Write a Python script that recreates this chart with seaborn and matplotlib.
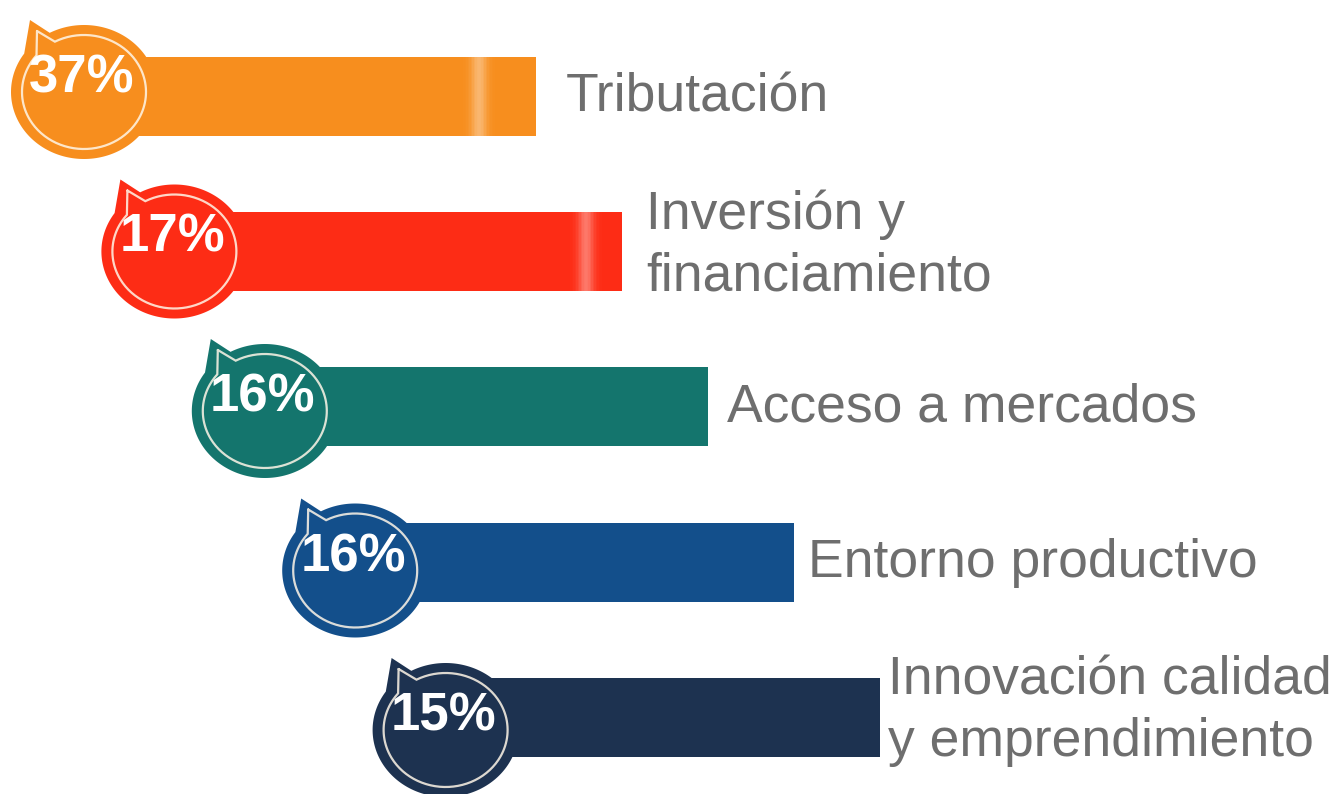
import numpy as np
import matplotlib
matplotlib.use("Agg")
import matplotlib.pyplot as plt
import seaborn as sns

# datos ----------------------------------------------------------------------------------------
categorias = ["Tributación", "Inversión y\nfinanciamiento", "Acceso a mercados",
              "Entorno productivo", "Innovación calidad\ny emprendimiento"]
porcentajes = [37, 17, 16, 16, 15]
colores = ["#F78E1E", "#FD2C15", "#14756D", "#134F8B", "#1D3250"]
brillo = [True, True, False, False, False]

sns.set_theme(style="white")
plt.rcParams["font.family"] = ["Liberation Sans", "DejaVu Sans"]

# disposicion escalonada (pixeles) ---------------------------------------------------------------
W, H = 1332, 794
barra_y0, barra_paso = 96, 155.4
circ_y0, circ_paso_y = 92, 159.5
circ_x0, circ_paso = 84, 90.4
fin_x0, fin_paso = 536, 86.0
txt_x0, txt_paso = 566, 80.5
rx, ry = 73, 67          # globo apenas ensanchado
rx_in, ry_in = 62, 57
alto_barra = 79

fig = plt.figure(figsize=(W / 100, H / 100), dpi=100)
ax = fig.add_axes([0, 0, 1, 1])
ax.set_xlim(0, W)
ax.set_ylim(H, 0)
ax.axis("off")


def elipse(cx, cy, a, b, ang):
    t = np.radians(ang)
    return cx + a * np.cos(t), cy - b * np.sin(t)


for i, (cat, pct, col) in enumerate(zip(categorias, porcentajes, colores)):
    yb = barra_y0 + barra_paso * i
    cy = circ_y0 + circ_paso_y * i
    cx = circ_x0 + circ_paso * i
    fin = fin_x0 + fin_paso * i

    # barra
    ax.barh(yb, fin - cx, left=cx, height=alto_barra, color=col, edgecolor="none", zorder=2)

    # brillo cerca del final de la barra
    if brillo[i]:
        xc = fin - 58 + 21 * i
        for dx in np.arange(-30, 31, 1.5):
            a = 0.36 * np.exp(-(dx / 8.0) ** 2)
            ax.barh(yb, 1.6, left=xc + dx, height=alto_barra, color="white", alpha=a,
                    edgecolor="none", zorder=2.5)

    # globo con cola
    ang = np.linspace(145, 118 + 360, 240)
    px, py = elipse(cx, cy, rx, ry, ang)
    tx, ty = cx - 54, cy - 72
    ax.fill(np.r_[tx, px, tx], np.r_[ty, py, ty], color=col, zorder=3, lw=0)

    # anillo interior claro
    ang2 = np.linspace(140, 118 + 360, 240)
    qx, qy = elipse(cx, cy, rx_in, ry_in, ang2)
    ux, uy = cx - 47, cy - 61
    ax.plot(np.r_[ux, qx, ux], np.r_[uy, qy, uy], color="#FFF6E8", alpha=0.85, lw=1.6,
            zorder=4, solid_joinstyle="miter")

    # porcentaje
    ax.text(cx - 2, cy - 13.5, f"{pct}%", color="white", fontsize=38, fontweight="bold",
            ha="center", va="center", zorder=5)

    # etiqueta
    dy = -6 if "\n" in cat else 1
    ax.text(txt_x0 + txt_paso * i, yb + dy, cat, color="#6E6E6E", fontsize=38.5,
            ha="left", va="center", linespacing=1.3, zorder=5)

fig.savefig("out.png", dpi=100, facecolor="white")
